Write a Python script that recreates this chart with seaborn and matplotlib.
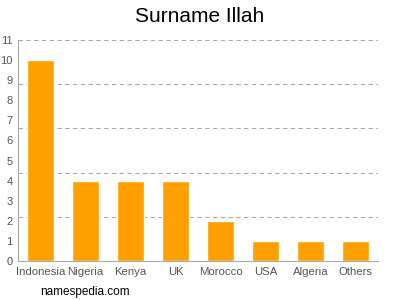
import matplotlib
matplotlib.use("Agg")
import matplotlib.pyplot as plt
import seaborn as sns
import pandas as pd
import numpy as np

categories = ["Indonesia", "Nigeria", "Kenya", "UK", "Morocco", "USA", "Algeria", "Others"]
values = [10, 4, 4, 4, 2, 1, 1, 1]
yticks = list(range(0, 12))
ymax = 11
n_gridlines = 5

sns.set_theme(style="white")
plt.rcParams['font.family'] = ['Liberation Sans', 'DejaVu Sans']

df = pd.DataFrame({"country": categories, "count": values})

fig = plt.figure(figsize=(4, 3), dpi=100)
ax = fig.add_axes([0.045, 0.13, 0.9, 0.7367])
sns.barplot(data=df, x="country", y="count", color="#FFA000", width=0.62,
            saturation=1, ax=ax, zorder=3)

ax.set_ylim(0, ymax)
ax.set_xlim(-0.5, len(categories) - 0.5)
ax.set_yticks(yticks)
ax.set_yticklabels([str(t) for t in yticks])
for g in np.linspace(0, ymax, n_gridlines + 1)[1:]:
    ax.axhline(g, linestyle=(0, (4, 3)), color="#aaaaaa", linewidth=0.8, zorder=1)
ax.grid(False)
ax.tick_params(axis="x", which="major", labelsize=8.2, labelcolor="#555555",
               length=3, width=0.8, pad=1.5, color="#aaaaaa")
ax.tick_params(axis="y", which="major", labelsize=8, labelcolor="#555555",
               length=3, width=0.8, pad=1, color="#aaaaaa")
for s in ["top", "right"]:
    ax.spines[s].set_visible(False)
for s in ["left", "bottom"]:
    ax.spines[s].set_color("#aaaaaa")
    ax.spines[s].set_linewidth(0.8)
ax.set_xlabel("")
ax.set_ylabel("")

fig.text(0.5, 0.945, "Surname Illah", ha="center", va="center", fontsize=15, color="#000000")
fig.text(0.1, 0.027, "namespedia.com", ha="left", va="center", fontsize=8.5, color="#000000")

fig.savefig("out.png", dpi=100)
